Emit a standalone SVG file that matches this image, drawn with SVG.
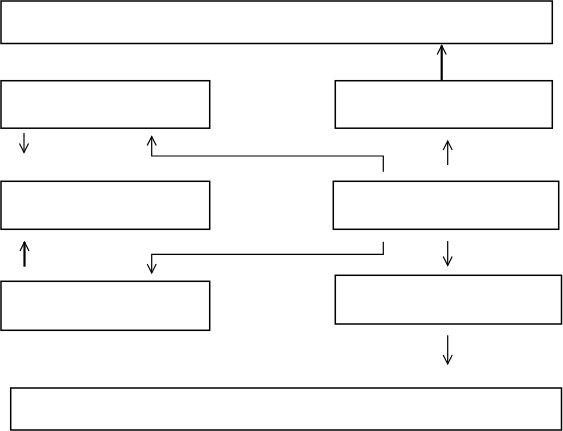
<svg xmlns="http://www.w3.org/2000/svg" width="563" height="431" viewBox="0 0 563 431">
<style>
.box{fill:#fff;stroke:#000;stroke-width:1.5}
.c{fill:none;stroke:#000;stroke-width:1.2}
.t{fill:none;stroke:#000;stroke-width:2.2}
</style>
<defs>
<marker id="ah" markerUnits="userSpaceOnUse" markerWidth="12" markerHeight="12" viewBox="-10 -6 12 12" refX="0" refY="0" orient="auto" overflow="visible">
<path d="M-9,-4.5 L0,0 L-9,4.5" fill="none" stroke="#000" stroke-width="1.2"/>
</marker>
</defs>
<rect width="563" height="431" fill="#fff"/>
<g id="n-top"><rect class="box" x="1" y="1" width="551.3" height="42.5"/></g>
<g id="n-l1"><rect class="box" x="1" y="80.7" width="208.7" height="47.5"/></g>
<g id="n-r1"><rect class="box" x="335.3" y="80.7" width="217" height="47.5"/></g>
<g id="n-l2"><rect class="box" x="1" y="181.3" width="208.7" height="48"/></g>
<g id="n-r2"><rect class="box" x="333.3" y="181.3" width="225.4" height="48"/></g>
<g id="n-l3"><rect class="box" x="1" y="281.3" width="208.7" height="49"/></g>
<g id="n-r3"><rect class="box" x="335.3" y="275.3" width="226.2" height="48.7"/></g>
<g id="n-bottom"><rect class="box" x="10.7" y="388" width="550.8" height="42"/></g>
<g id="connectors">
<path class="t" d="M441.7,80 L441.7,45.5" marker-end="url(#ah)"/>
<path class="c" d="M24,133 L24,152.5" marker-end="url(#ah)"/>
<path class="c" d="M383.3,171.7 L383.3,156 L151.7,156 L151.7,136.5" marker-end="url(#ah)"/>
<path class="c" d="M447.7,165 L447.7,141" marker-end="url(#ah)"/>
<path class="t" d="M24.5,266.7 L24.5,242" marker-end="url(#ah)"/>
<path class="c" d="M383.3,241.7 L383.3,254.3 L151.7,254.3 L151.7,273" marker-end="url(#ah)"/>
<path class="c" d="M447.7,241 L447.7,265.5" marker-end="url(#ah)"/>
<path class="c" d="M447.7,335.3 L447.7,364" marker-end="url(#ah)"/>
</g>
</svg>
